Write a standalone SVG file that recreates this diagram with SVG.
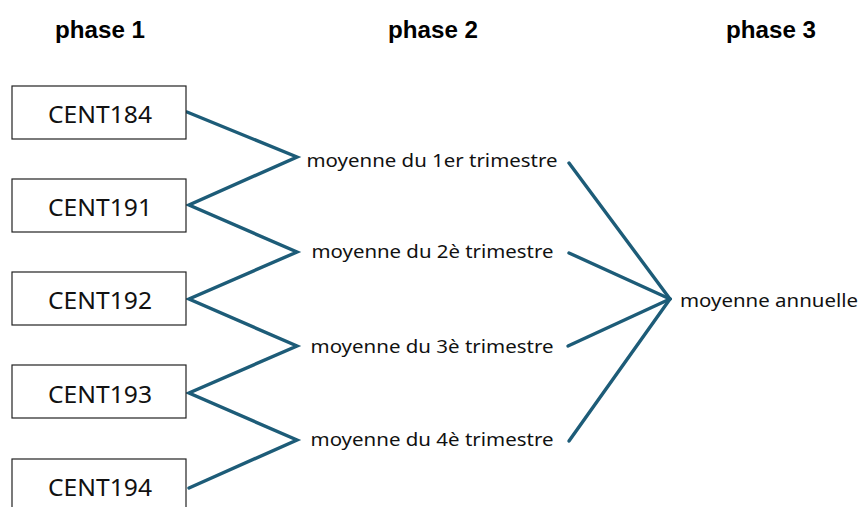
<svg xmlns="http://www.w3.org/2000/svg" width="862" height="507" viewBox="0 0 862 507">
<style>
.head{font-family:"Liberation Sans",Arial,sans-serif;font-weight:bold;font-size:24px;fill:#000}
.box{fill:#fff;stroke:#222;stroke-width:1.2}
.bt{font-family:"Noto Sans","Liberation Sans",sans-serif;font-size:23px;fill:#111}
.mt{font-family:"Noto Sans","Liberation Sans",sans-serif;font-size:18px;fill:#111}
.con{stroke:#1d5c78;stroke-width:3.4;fill:none;stroke-linecap:round;stroke-linejoin:miter}
</style>
<rect width="862" height="507" fill="#fff"/>
<g id="headers">
<text class="head" x="55" y="38" textLength="90" lengthAdjust="spacingAndGlyphs">phase 1</text>
<text class="head" x="388" y="38" textLength="90" lengthAdjust="spacingAndGlyphs">phase 2</text>
<text class="head" x="726" y="38" textLength="90" lengthAdjust="spacingAndGlyphs">phase 3</text>
</g>
<g id="connectors">
<polyline class="con" points="187,112 297,157 189,205 297,252 189,299 297,346 189,393 297,440 189,488"/>
<line class="con" x1="569" y1="163" x2="670" y2="299"/>
<line class="con" x1="569" y1="253" x2="670" y2="299"/>
<line class="con" x1="568" y1="346" x2="670" y2="299"/>
<line class="con" x1="569" y1="441" x2="670" y2="299"/>
</g>
<g id="cent184"><rect class="box" x="12" y="86" width="174" height="53"/><text class="bt" x="48" y="123" textLength="104" lengthAdjust="spacingAndGlyphs">CENT184</text></g>
<g id="cent191"><rect class="box" x="12" y="179" width="174" height="53"/><text class="bt" x="48" y="216" textLength="104" lengthAdjust="spacingAndGlyphs">CENT191</text></g>
<g id="cent192"><rect class="box" x="12" y="272" width="174" height="53"/><text class="bt" x="48" y="309" textLength="104" lengthAdjust="spacingAndGlyphs">CENT192</text></g>
<g id="cent193"><rect class="box" x="12" y="365" width="174" height="53"/><text class="bt" x="48" y="402.5" textLength="104" lengthAdjust="spacingAndGlyphs">CENT193</text></g>
<g id="cent194"><rect class="box" x="12" y="459" width="174" height="53"/><text class="bt" x="48" y="496" textLength="104" lengthAdjust="spacingAndGlyphs">CENT194</text></g>
<g id="t1"><text class="mt" x="306.5" y="166.5" textLength="251" lengthAdjust="spacingAndGlyphs">moyenne du 1er trimestre</text></g>
<g id="t2"><text class="mt" x="311.5" y="258" textLength="242" lengthAdjust="spacingAndGlyphs">moyenne du 2è trimestre</text></g>
<g id="t3"><text class="mt" x="310.5" y="352.5" textLength="243" lengthAdjust="spacingAndGlyphs">moyenne du 3è trimestre</text></g>
<g id="t4"><text class="mt" x="310.5" y="446" textLength="243" lengthAdjust="spacingAndGlyphs">moyenne du 4è trimestre</text></g>
<g id="annuelle"><text class="mt" x="680" y="306.5" textLength="178" lengthAdjust="spacingAndGlyphs">moyenne annuelle</text></g>
</svg>
